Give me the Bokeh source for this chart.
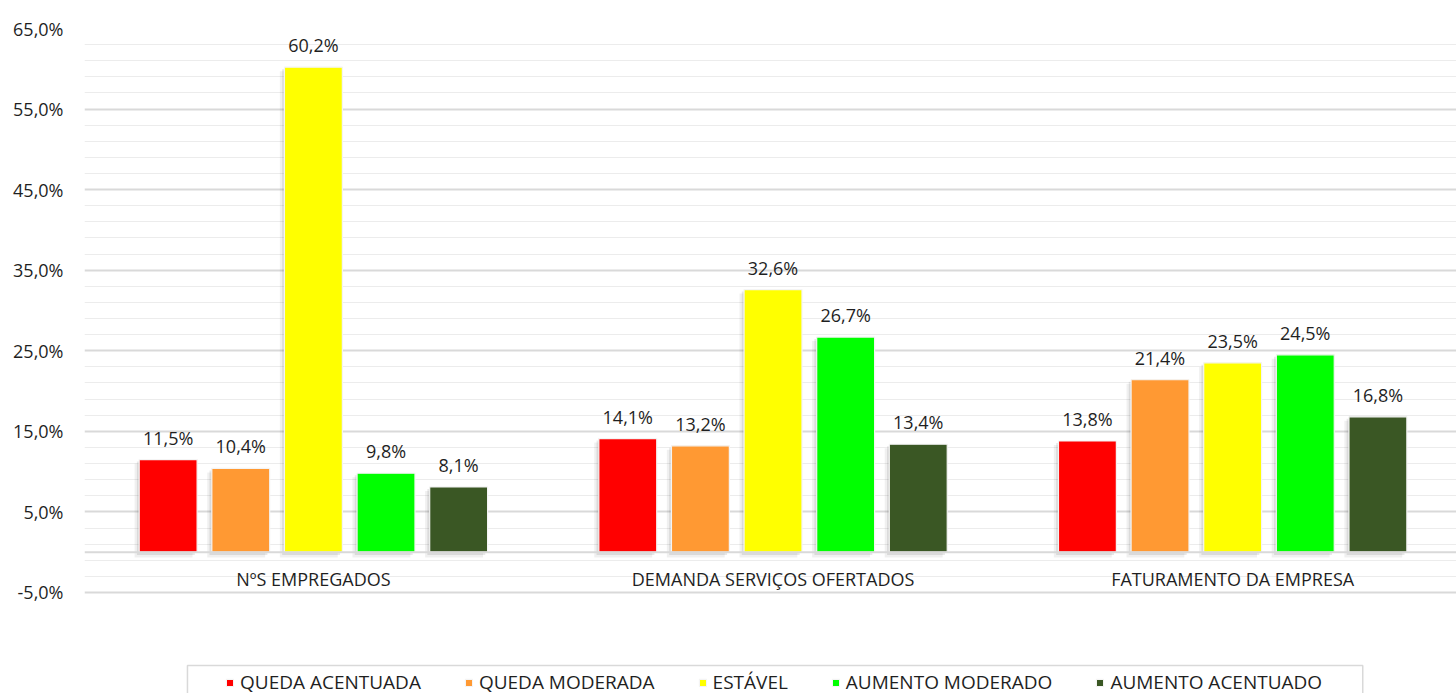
from bokeh.plotting import figure
from bokeh.models import (ColumnDataSource, Range1d, FixedTicker, CustomJSTickFormatter,
                          Legend, LegendItem, Span)
from bokeh.transform import dodge
from bokeh.core.properties import value
from bokeh.embed import file_html
from bokeh.resources import INLINE

categories = ["NºS EMPREGADOS", "DEMANDA SERVIÇOS OFERTADOS", "FATURAMENTO DA EMPRESA"]
series_names = ["QUEDA ACENTUADA", "QUEDA MODERADA", "ESTÁVEL", "AUMENTO MODERADO", "AUMENTO ACENTUADO"]
queda_acentuada = [11.5, 14.1, 13.8]
queda_moderada = [10.4, 13.2, 21.4]
estavel = [60.2, 32.6, 23.5]
aumento_moderado = [9.8, 26.7, 24.5]
aumento_acentuado = [8.1, 13.4, 16.8]
series_values = [queda_acentuada, queda_moderada, estavel, aumento_moderado, aumento_acentuado]
colors = ["#FF0000", "#FF9933", "#FFFF00", "#00FF00", "#3A5724"]
major_ticks = [-5, 5, 15, 25, 35, 45, 55, 65]
minor_ticks = [-3, -1, 1, 3, 7, 9, 11, 13, 17, 19, 21, 23, 27, 29, 31, 33, 37, 39, 41, 43,
               47, 49, 51, 53, 57, 59, 61, 63]

FONT = "Open Sans"
TXT = "#1f1f1f"

xs = list(range(len(categories)))

p = figure(width=1456, height=693, output_backend="svg", toolbar_location=None,
           x_range=Range1d(-0.498, 2.487), y_range=Range1d(-17.54, 65),
           min_border_left=84, min_border_right=0, min_border_top=28, min_border_bottom=0)
p.outline_line_color = None
p.background_fill_color = "white"
p.border_fill_color = "white"
p.xaxis.visible = False
p.xgrid.visible = False

ticker = FixedTicker(ticks=major_ticks, minor_ticks=minor_ticks)
p.yaxis.ticker = ticker
p.ygrid.ticker = ticker
p.yaxis.formatter = CustomJSTickFormatter(code="return tick.toFixed(1).replace('.', ',') + '%';")
p.yaxis.axis_line_color = None
p.yaxis.major_tick_line_color = None
p.yaxis.minor_tick_line_color = None
p.yaxis.major_label_standoff = 15
p.yaxis.major_label_text_font = FONT
p.yaxis.major_label_text_font_size = "18px"
p.yaxis.major_label_text_color = TXT
p.ygrid.grid_line_color = "#d9d9d9"
p.ygrid.grid_line_width = 2
p.ygrid.minor_grid_line_color = "#ececec"
p.ygrid.minor_grid_line_width = 1

p.add_layout(Span(location=0, dimension="width", line_color="#d9d9d9", line_width=2))

pitch = 0.158
bw = 0.126
items = []
for i, (name, vals, col) in enumerate(zip(series_names, series_values, colors)):
    off = (i - 2) * pitch
    src = ColumnDataSource(dict(x=xs, top=vals,
                                top_s1=[v - 0.5 for v in vals],
                                top_s2=[v - 0.25 for v in vals],
                                lab=[f"{v:.1f}".replace(".", ",") + "%" for v in vals]))
    p.vbar(x=dodge("x", off - 0.010, range=p.x_range), top="top_s1", bottom=-0.65, width=bw,
           fill_color="black", fill_alpha=0.06, line_color=None, source=src)
    p.vbar(x=dodge("x", off - 0.005, range=p.x_range), top="top_s2", bottom=-0.35, width=bw,
           fill_color="black", fill_alpha=0.09, line_color=None, source=src)
    r = p.vbar(x=dodge("x", off, range=p.x_range), top="top", bottom=0, width=bw,
               fill_color=col, line_color="#f4f4f4", line_width=1.2, source=src)
    p.text(x=dodge("x", off, range=p.x_range), y="top", text="lab", source=src,
           text_align="center", text_baseline="alphabetic", y_offset=-22,
           text_font=value(FONT), text_font_size="18px", text_color=TXT)
    items.append(LegendItem(label=name, renderers=[r]))

cat_src = ColumnDataSource(dict(x=xs, y=[-3.39] * len(xs), t=categories))
p.text(x="x", y="y", text="t", source=cat_src, text_align="center", text_baseline="alphabetic",
       text_font=value(FONT), text_font_size="18px", text_color=TXT)

# legend frame (wider than the legend's own box, as in the reference)
p.quad(left=[-0.274], right=[2.283], top=[-14.06], bottom=[-20.0],
       fill_color="white", line_color="#d9d9d9", line_width=1.5)

legend = Legend(items=items, orientation="horizontal", location=(141, -2),
                glyph_width=9, glyph_height=9, label_standoff=6, spacing=43, padding=8,
                label_height=23, label_text_font=FONT, label_text_font_size="19px",
                label_text_color=TXT, border_line_color=None,
                background_fill_alpha=0.0, margin=0)
p.add_layout(legend, "center")

open("out.html", "w").write(file_html(p, INLINE))
